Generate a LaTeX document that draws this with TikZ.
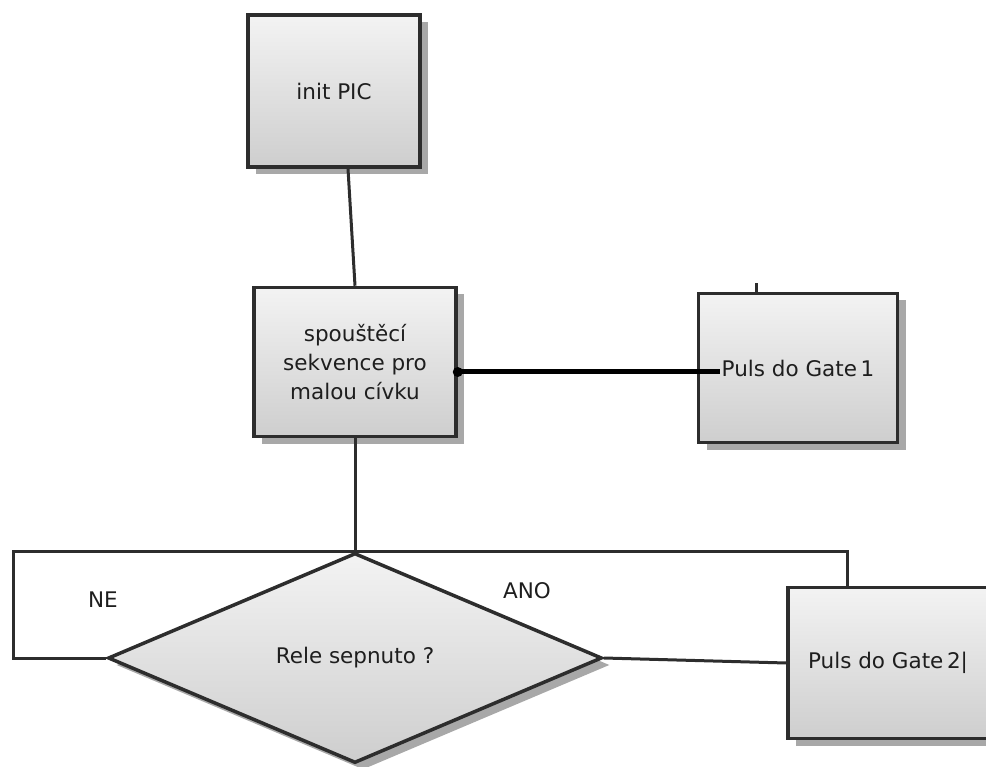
\documentclass[tikz,border=0pt]{standalone}
\usepackage{fontspec}
\setmainfont{DejaVu Sans}
\usetikzlibrary{shapes.geometric,shadows}
\definecolor{boxline}{RGB}{45,45,45}
\definecolor{boxtop}{RGB}{243,243,243}
\definecolor{boxbottom}{RGB}{206,206,206}
\definecolor{boxshadow}{RGB}{168,168,168}
\definecolor{labeltext}{RGB}{30,30,30}

\begin{document}
\begin{tikzpicture}[
    x=1pt, y=-1pt,
    every node/.style={text=labeltext, font=\fontsize{21.5}{29}\selectfont},
    box/.style={
      draw=boxline,
      line width=3.5pt,
      top color=boxtop,
      bottom color=boxbottom,
      drop shadow={shadow xshift=8pt, shadow yshift=-7pt,
        fill=boxshadow, opacity=1},
      align=center,
      inner sep=0pt
    },
    decision/.style={
      box,
      diamond,
      minimum width=494pt,
      minimum height=210pt
    },
    wire/.style={draw=boxline, line width=3pt},
    bus/.style={draw=black, line width=5pt}
  ]
    \useasboundingbox (0,0) rectangle (986,767);
    \clip (0,0) rectangle (986,767);

    \node[box, minimum width=172pt, minimum height=152pt] (init) at (334,91)
      {init PIC};
    \node[box, minimum width=202pt, minimum height=149pt] (sequence) at (355,362)
      {spouštěcí\\sekvence pro\\malou cívku};
    \node[box, minimum width=199pt, minimum height=149pt] (gate1) at (798,368)
      {Puls do Gate\,1};
    \node[decision] (relay) at (355,658) {Rele sepnuto ?};
    \node[box, minimum width=200pt, minimum height=151pt] (gate2) at (888,663)
      {Puls do Gate\,2|};

    \node (no-label) at (103,600) {NE};
    \node (yes-label) at (527,591) {ANO};

    % connectors
    \coordinate (sequence-out) at ([yshift=-10pt]sequence.east);
    \coordinate (gate1-in) at ([xshift=-78pt, yshift=-4pt]gate1.center);
    \draw[wire] ([xshift=14pt]init.south) -- (sequence.north);
    \draw[wire] (sequence.south) -- (relay.north);
    \draw[bus] (sequence-out) -- (gate1-in);
    \fill[black] (sequence-out) circle (5);
    \draw[wire] ([xshift=-42pt]gate1.north) -- ++(0,-9);
    \draw[wire] (relay.north) -- ++(-342,0) |- (relay.west);
    \draw[wire] (relay.north) -| ([xshift=-41pt]gate2.north);
    \draw[wire] (relay.east) -- (gate2.west);
  \end{tikzpicture}
\end{document}
